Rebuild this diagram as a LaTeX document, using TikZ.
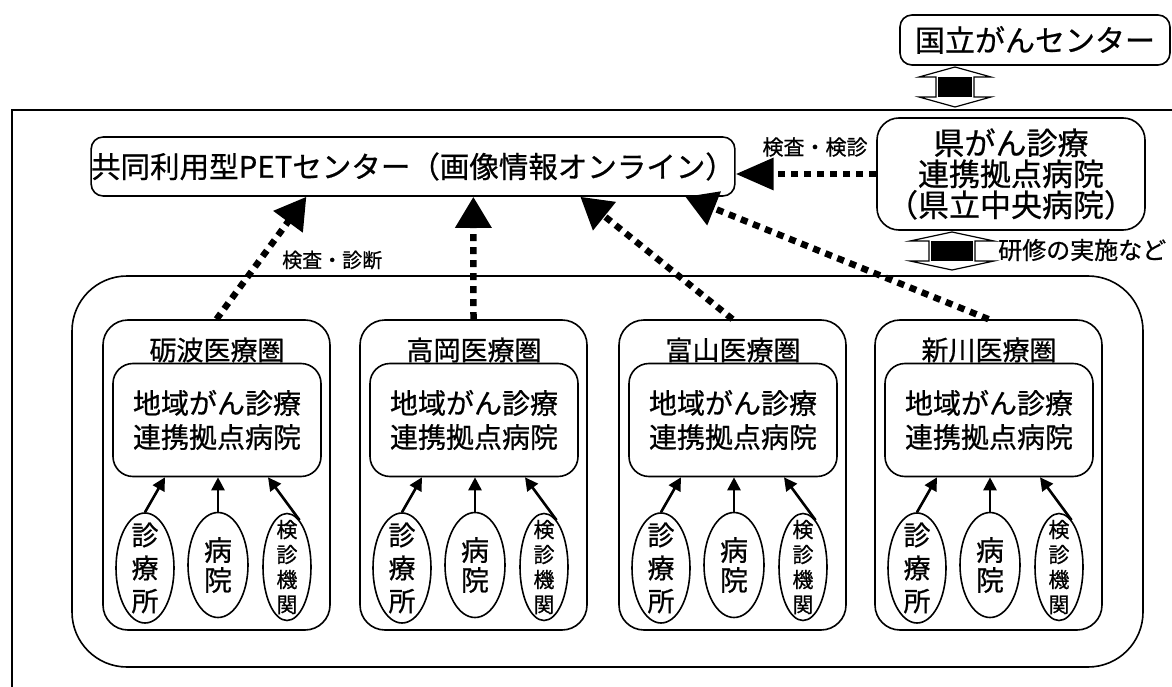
\documentclass[tikz,border=0pt]{standalone}
\usepackage{fontspec}
\setmainfont{Noto Sans CJK JP}[FakeBold=0.7]
\usetikzlibrary{arrows.meta,shapes.geometric,calc}
\begin{document}
\begin{tikzpicture}[x=1pt,y=-1pt,
  box/.style={draw, line width=1.6pt, inner sep=0pt},
  ell/.style={draw, ellipse, line width=1.6pt, inner sep=0pt},
  etext/.style={align=center, inner sep=0pt},
  dotarr/.style={line width=6.5pt, dash pattern=on 7pt off 6pt, -{Triangle[length=31pt,width=35pt]}},
  dotarrh/.style={line width=6.5pt, dash pattern=on 7pt off 6pt, -{Triangle[length=38pt,width=31pt]}},
  smallarr/.style={line width=2.6pt, -{Triangle[length=13pt,width=13pt]}},
  lbl/.style={inner sep=0pt}
]
\useasboundingbox (0,0) rectangle (1172,687);
\fill[white] (0,0) rectangle (1172,687);

% outer frame (cut by the page)
\coordinate (fbl) at (12,687);
\coordinate (ftl) at (12,110);
\coordinate (ftr) at (1172,110);
\draw[line width=1.6pt] (fbl) -- (ftl) -- (ftr);

% top boxes
\node[box, rounded corners=12pt, minimum width=270pt, minimum height=50pt,
      font=\fontsize{30}{30}\selectfont] (nat) at (1035,40) {国立がんセンター};
\node[box, fill=white, rounded corners=22pt, minimum width=268pt, minimum height=112pt, align=center,
      font=\fontsize{31}{31}\selectfont] (pref) at (1011,174) {県がん診療\\連携拠点病院\\（県立中央病院）};
\node[box, rounded corners=12pt, minimum width=640pt, minimum height=59pt,
      font=\fontsize{29.5}{29.5}\selectfont] (pet) at (413,166.5) {共同利用型PETセンター（画像情報オンライン）};

% big container
\node[box, rounded corners=55pt, minimum width=1071pt, minimum height=391pt] (area) at (607.5,471.5) {};

% regions
\foreach \i/\l/\nm in {1/103/砺波医療圏,2/360/高岡医療圏,3/619/富山医療圏,4/875/新川医療圏}{
  \node[box, rounded corners=25pt, minimum width=227pt, minimum height=310pt] (r\i) at (\l+113.5,475) {};
  \node[lbl, font=\fontsize{27}{27}\selectfont] (r\i-t) at (\l+114,350) {\nm};
  \node[box, rounded corners=20pt, minimum width=208pt, minimum height=113pt, align=center,
        font=\fontsize{28}{34}\selectfont] (r\i-b) at (\l+114,420) {地域がん診療\\連携拠点病院};
  \node[ell, minimum width=58pt, minimum height=110pt] (r\i-e1) at (\l+42,568) {};
  \node[etext, font=\fontsize{27}{33}\selectfont] (r\i-e1t) at (r\i-e1) {診\\療\\所};
  \node[ell, minimum width=60pt, minimum height=105pt] (r\i-e2) at (\l+115,565) {};
  \node[etext, font=\fontsize{28}{30}\selectfont] (r\i-e2t) at (r\i-e2) {病\\院};
  \node[ell, minimum width=48pt, minimum height=107pt] (r\i-e3) at (\l+184,567) {};
  \node[etext, font=\fontsize{21}{25}\selectfont] (r\i-e3t) at (r\i-e3) {検\\診\\機\\関};
  \draw[smallarr] (r\i-e1.north) -- ($(r\i-b.south)+(-52,0)$);
  \draw[smallarr] (r\i-e2.north) -- (r\i-e2.north |- r\i-b.south);
  \draw[smallarr] (r\i-e3.75) -- ($(r\i-b.south)+(51,0)$);
}

% dotted arrows to PET centre
\foreach \i/\d in {1/216,2/383,3/490,4/595}{
  \draw[dotarr] (r\i.north) -- ($(pet.south west)+(\d,0)$);
}
\draw[dotarrh] (pref.west) -- (pref.west -| pet.east);

% labels
\node[lbl, font=\fontsize{21}{21}\selectfont] (lab1) at (815,147) {検査・検診};
\node[lbl, anchor=west, font=\fontsize{20}{20}\selectfont] (lab2) at (282,260) {検査・診断};
\node[lbl, anchor=west, font=\fontsize{24}{24}\selectfont] (lab3) at (998,250) {研修の実施など};

% double block arrows
\coordinate (da1) at (955,87);
\draw[line width=1.2pt, fill=white] ($(da1)+(0,-20)$) -- ++(36,10) -- ++(-17,0) -- ++(0,20) -- ++(17,0)
   -- ($(da1)+(0,20)$) -- ++(-36,-10) -- ++(17,0) -- ++(0,-20) -- ++(-17,0) -- cycle;
\fill[black] ($(da1)+(-17,-10)$) rectangle ($(da1)+(17,10)$);

\coordinate (da2) at (952,251);
\draw[line width=1.2pt, fill=white] ($(da2)+(0,-19)$) -- ++(42,9) -- ++(-19,0) -- ++(0,20) -- ++(19,0)
   -- ($(da2)+(0,19)$) -- ++(-42,-9) -- ++(19,0) -- ++(0,-20) -- ++(-19,0) -- cycle;
\fill[black] ($(da2)+(-21,-10)$) rectangle ($(da2)+(21,10)$);
\end{tikzpicture}
\end{document}
